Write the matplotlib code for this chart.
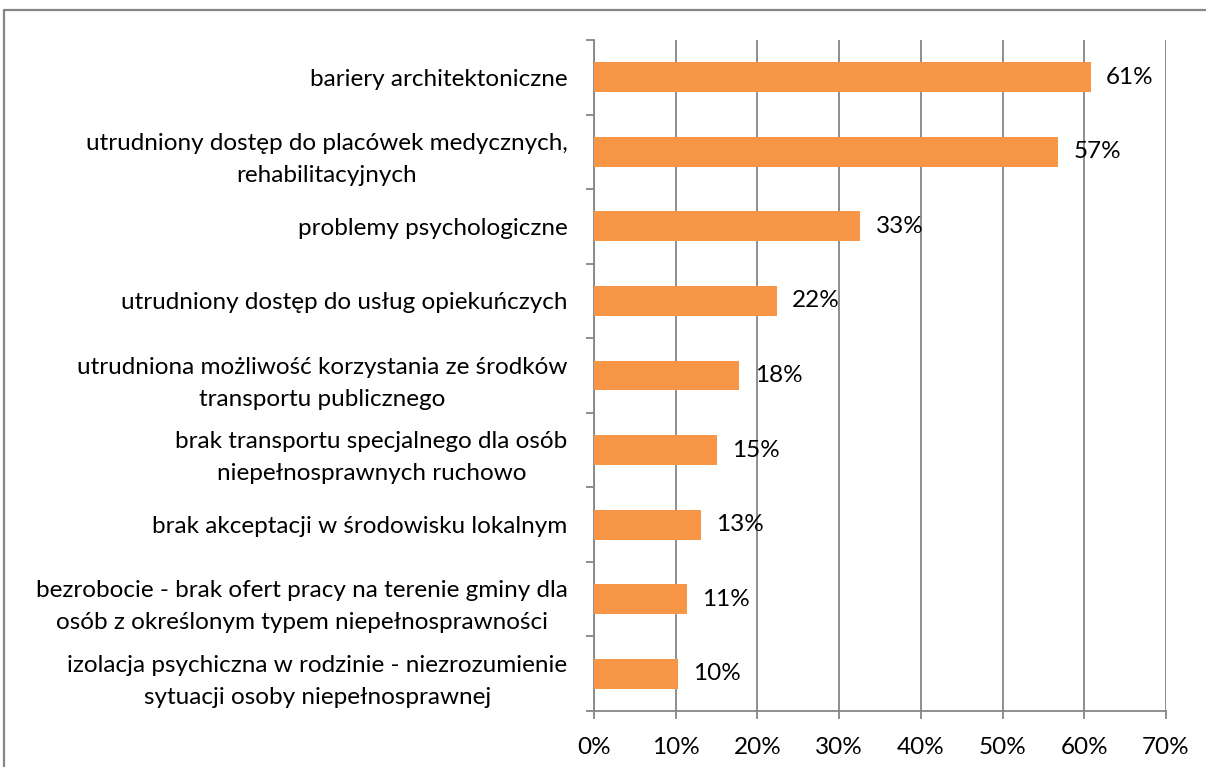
import matplotlib
matplotlib.use("Agg")
import matplotlib.pyplot as plt
import matplotlib.patches as patches
from matplotlib.ticker import MultipleLocator, FixedLocator, PercentFormatter

# ---- data (top to bottom) ----
categories = [
    "bariery architektoniczne",
    "utrudniony dostęp do placówek medycznych,\nrehabilitacyjnych",
    "problemy psychologiczne",
    "utrudniony dostęp do usług opiekuńczych",
    "utrudniona możliwość korzystania ze środków\ntransportu publicznego",
    "brak transportu specjalnego dla osób\nniepełnosprawnych ruchowo",
    "brak akceptacji w środowisku lokalnym",
    "bezrobocie - brak ofert pracy na terenie gminy dla\nosób z określonym typem niepełnosprawności",
    "izolacja psychiczna w rodzinie - niezrozumienie\nsytuacji osoby niepełnosprawnej",
]
values = [0.608, 0.568, 0.326, 0.224, 0.178, 0.150, 0.131, 0.114, 0.103]
labels = ["61%", "57%", "33%", "22%", "18%", "15%", "13%", "11%", "10%"]

BAR = "#F79646"
GRID = "#868686"
FONT = "Lato"
FS = 17.5

fig = plt.figure(figsize=(12.06, 7.67), dpi=100)
ax = fig.add_axes([594 / 1206, 1 - 711 / 767, (1166 - 594) / 1206, (711 - 40) / 767])

n = len(categories)
ypos = list(range(n))[::-1]
ax.barh(ypos, values, height=0.4, color=BAR, zorder=3)

for y, v, lab in zip(ypos, values, labels):
    ax.annotate(lab, (v, y), xytext=(11, 0), textcoords="offset points",
                ha="left", va="center", fontsize=FS, family=FONT, color="black")

ax.set_xlim(0, 0.70)
ax.set_ylim(-0.5, n - 0.5)
ax.xaxis.set_major_locator(MultipleLocator(0.1))
ax.xaxis.set_major_formatter(PercentFormatter(1.0, decimals=0))
ax.grid(axis="x", color=GRID, linewidth=1.3, zorder=0)

ax.set_yticks(ypos)
ax.set_yticklabels(categories, family=FONT, fontsize=FS, ha="right",
                   multialignment="center", linespacing=1.65)
ax.yaxis.set_minor_locator(FixedLocator([i - 0.5 for i in range(n + 1)]))
ax.tick_params(axis="y", which="major", length=0, pad=19)
ax.tick_params(axis="y", which="minor", length=6, color=GRID, width=1.3)
ax.tick_params(axis="x", length=6, color=GRID, width=1.3, pad=13)
for t in ax.get_xticklabels():
    t.set_family(FONT)
    t.set_fontsize(FS)

for s in ["top", "right"]:
    ax.spines[s].set_visible(False)
for s in ["left", "bottom"]:
    ax.spines[s].set_color(GRID)
    ax.spines[s].set_linewidth(1.3)

# chart frame, running off the canvas at right and bottom
frame = patches.Rectangle((4 / 1206, -0.1), 1.2, 1 - 10 / 767 + 0.1,
                          transform=fig.transFigure, fill=False,
                          edgecolor=GRID, linewidth=1.6, clip_on=False)
fig.patches.append(frame)

fig.savefig("out.png", dpi=100)
